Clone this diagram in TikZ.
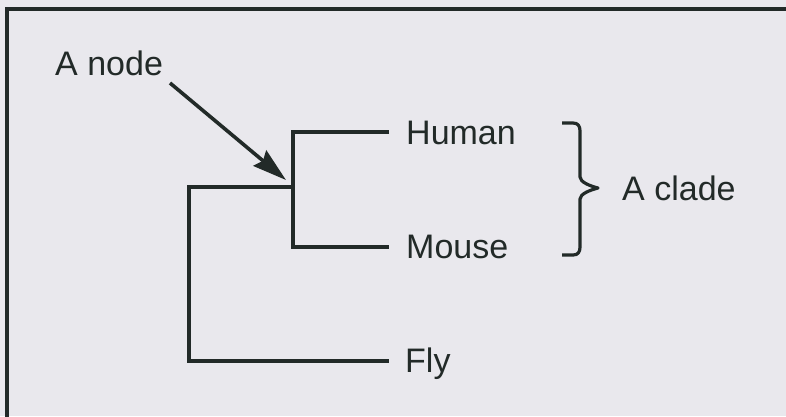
\documentclass[tikz,border=0pt]{standalone}
\usepackage{fontspec}
\setmainfont{Liberation Sans}
\usetikzlibrary{arrows.meta}
\definecolor{paper}{RGB}{233,232,237}
\definecolor{ink}{RGB}{34,42,40}
\begin{document}
\begin{tikzpicture}[x=1pt,y=-1pt,
  branch/.style={draw=ink,line width=3.2pt,line join=miter},
  label/.style={text=ink,inner sep=0pt,anchor=base west,font=\fontsize{34}{40}\selectfont},
  pointer/.style={draw=ink,line width=3.6pt,-{Stealth[length=34pt,width=20pt,inset=4pt]}},
]
% paper and frame
\fill[paper] (0,0) rectangle (786,416);
\useasboundingbox (0,0) rectangle (786,416);
\draw[ink,line width=4pt] (800,9) -- (7,9) -- (7,430);

% leaf labels
\node[label] (human) at (406,144) {Human};
\node[label] (mouse) at (406,258) {Mouse};
\node[label] (fly)   at (405,372) {Fly};

% branch points and tips
\coordinate (root)  at (189,187);
\coordinate (clade) at (293,187);
\coordinate (hTip)  at (389,132);
\coordinate (mTip)  at (389,247);
\coordinate (fTip)  at (389,361);

% tree
\draw[branch] (hTip) -| (clade) |- (mTip);
\draw[branch] (clade) -- (root) |- (fTip);

% node annotation
\node[label] (anode) at (55,75) {A node};
\coordinate (aStart) at (170,83);
\coordinate (aTip)   at (286,180);
\draw[pointer] (aStart) -- (aTip);

% clade brace and label
\draw[branch,line join=round]
  (562,123) -- (573,123) .. controls (578,123) and (580,126) .. (580,131)
  -- (580,177) .. controls (580,182) and (590,186) .. (598,188)
  .. controls (590,190) and (580,194) .. (580,199)
  -- (580,247) .. controls (580,252) and (578,255) .. (573,255) -- (562,255);
\node[label] (cladelabel) at (622,200) {A clade};
\end{tikzpicture}
\end{document}
